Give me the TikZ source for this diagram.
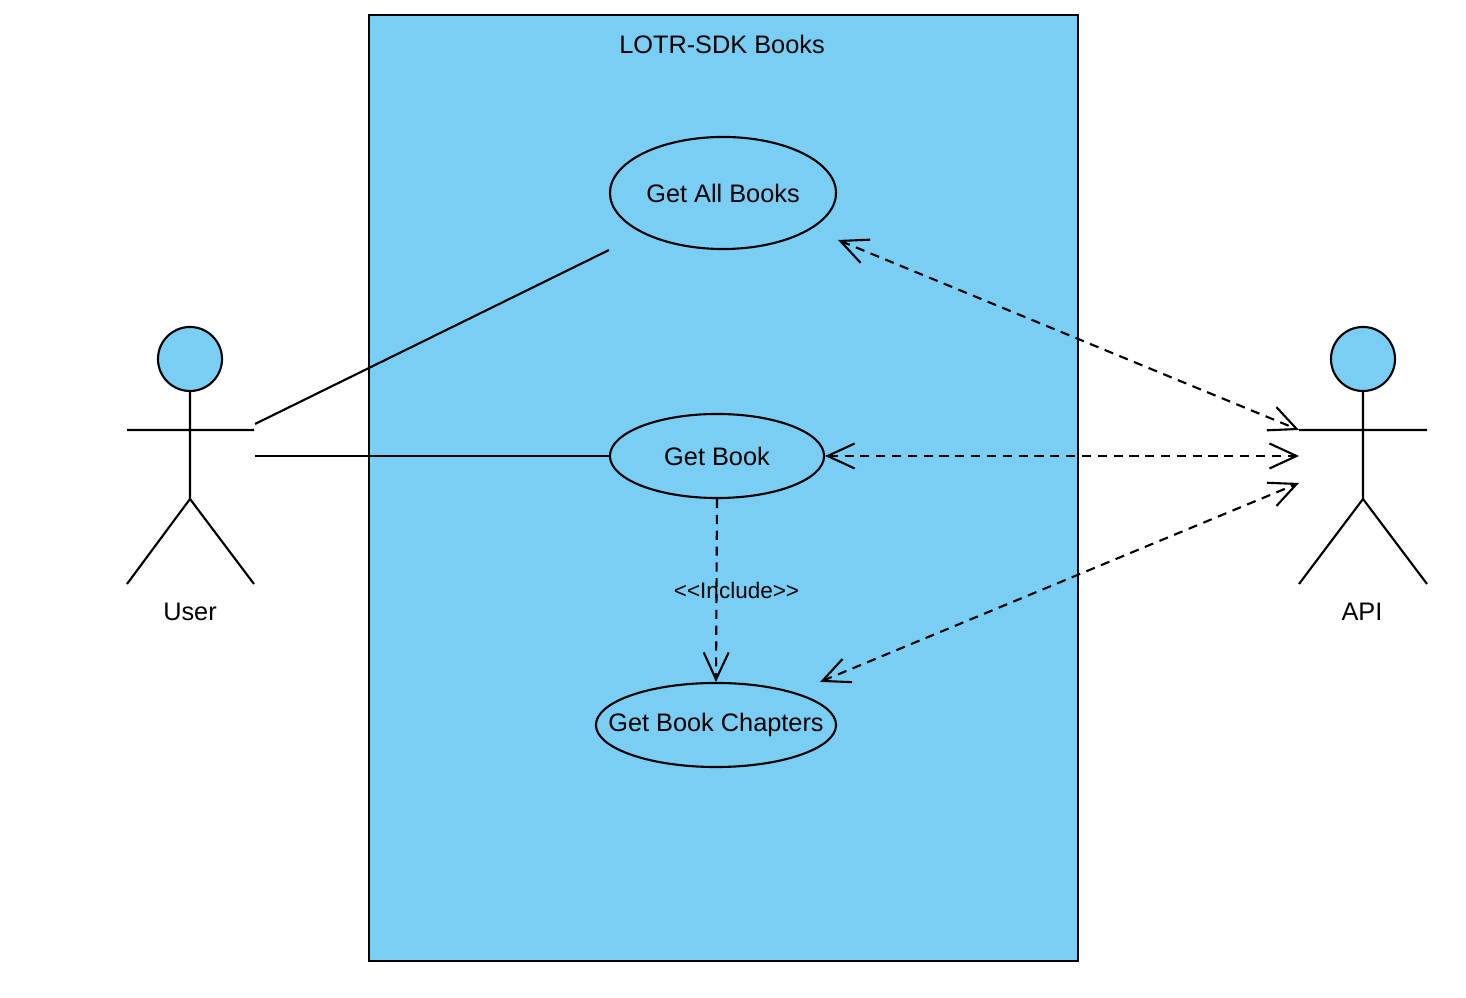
\documentclass[tikz,border=0pt]{standalone}
\usepackage{fontspec}
\setmainfont{Liberation Sans}
\usetikzlibrary{shapes.geometric,arrows.meta,positioning}
\definecolor{boxblue}{HTML}{7ACEF4}

\tikzset{
  usecase/.style={ellipse, draw, line width=0.6pt, inner sep=0pt,
    font=\fontsize{7.2}{8.5}\selectfont},
  actorhead/.style={circle, draw, fill=boxblue, line width=0.6pt,
    minimum size=0.64cm, inner sep=0pt},
  actorlbl/.style={font=\fontsize{7.2}{8.5}\selectfont, inner sep=0pt},
  assoc/.style={line width=0.6pt},
  callarrow/.style={line width=0.6pt, dash pattern=on 2.6pt off 1.9pt,
    {Straight Barb[length=2.7mm,width=2.5mm]}-{Straight Barb[length=2.7mm,width=2.5mm]}},
  incl/.style={line width=0.6pt, dash pattern=on 2.6pt off 1.9pt,
    -{Straight Barb[length=2.7mm,width=2.5mm]}}
}

\begin{document}
\begin{tikzpicture}[x=0.01cm, y=-0.01cm]
 \useasboundingbox (0,0) rectangle (1466,998);
 % system boundary
 \draw[line width=0.6pt, fill=boxblue] (369,15) rectangle (1078,961);
 \node (sys) [actorlbl] at (722,44) {LOTR-SDK Books};

 % use cases
 \node (gab) [usecase, minimum width=2.26cm, minimum height=1.12cm] at (723,193) {Get All Books};
 \node (gb)  [usecase, minimum width=2.14cm, minimum height=0.84cm] at (717,456) {Get Book};
 \node (gbc) [usecase, minimum width=2.40cm, minimum height=0.84cm, inner xsep=-0.25cm] at (716,725) {Get Book Chapters};

 % actors
 \node (user) [actorhead] at (190,359) {};
 \draw[assoc] (user.south) -- (190,499) (127,430) -- (254,430)
   (127,584) -- (190,499) -- (254,584);
 \node (userlbl) [actorlbl] at (190,612) {User};
 \coordinate (user-a) at (255,424);
 \coordinate (user-b) at (255,456);

 \node (api) [actorhead] at (1363,359) {};
 \draw[assoc] (api.south) -- (1363,499) (1299,430) -- (1427,430)
   (1299,584) -- (1363,499) -- (1427,584);
 \node (apilbl) [actorlbl] at (1362,612) {API};
 \coordinate (api-a) at (1299,430);
 \coordinate (api-b) at (1299,456);
 \coordinate (api-c) at (1299,483);

 % connectors
 \draw[assoc] (user-a) -- (gab.west |- gab.south);
 \draw[assoc] (user-b) -- (gb.west);
 \draw[callarrow] ([shift={(115,47)}]gab.center) -- (api-a);
 \draw[callarrow] (gb.east) -- (api-b);
 \draw[callarrow] ([shift={(104,0)}]gbc.north) -- (api-c);
 \draw[incl] (gb.south) -- node[xshift=0.2cm, font=\fontsize{6.4}{7.5}\selectfont, inner sep=0pt] {{<}{<}Include{>}{>}} (gbc.north);
\end{tikzpicture}
\end{document}
